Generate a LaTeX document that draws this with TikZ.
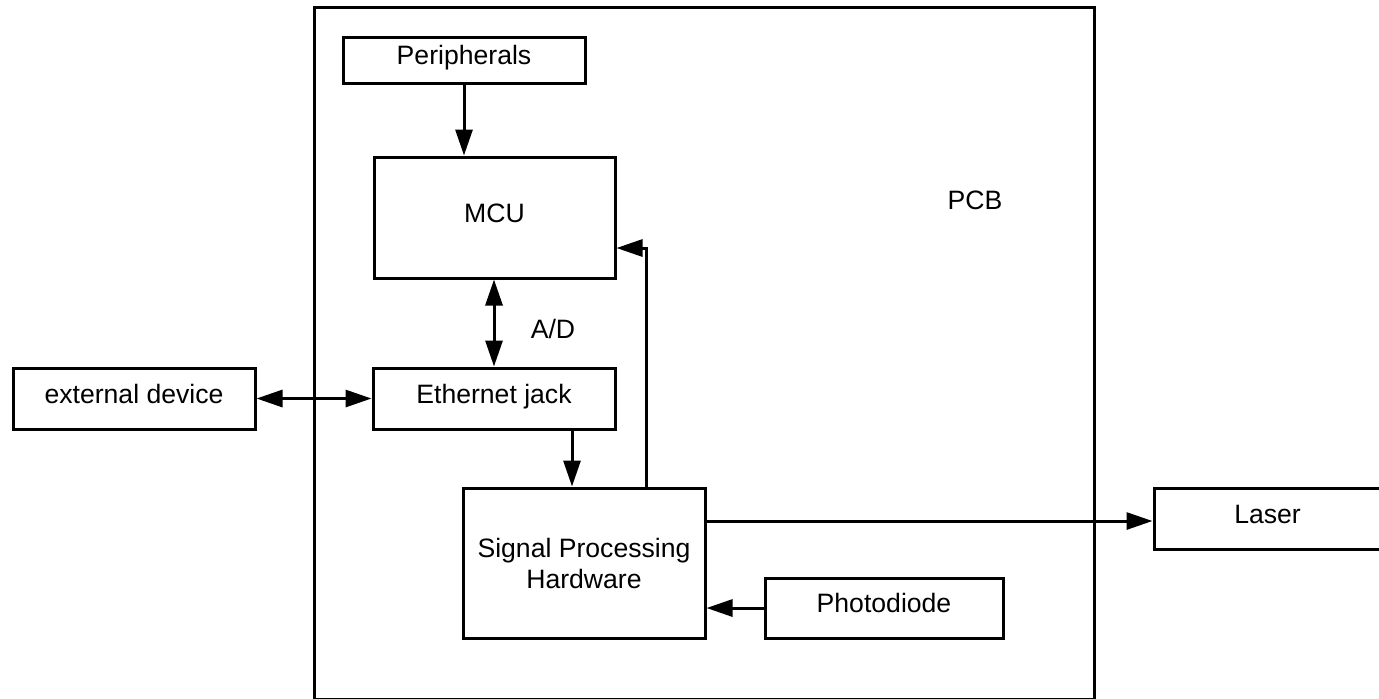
\documentclass[tikz,border=0pt]{standalone}
\usepackage{fontspec}
\setmainfont{Liberation Sans}
\usetikzlibrary{arrows.meta}
\begin{document}
\begin{tikzpicture}[x=0.5pt,y=-0.5pt,
  font=\fontsize{13.3}{15.5}\selectfont,
  frame/.style={draw, line width=1.5pt, inner sep=0pt, align=center},
  box/.style={frame, text height=9.6pt, text depth=5.1pt},
  arr/.style={line width=1.5pt, -{Triangle[length=13pt,width=8.5pt]}},
  darr/.style={line width=1.5pt, {Triangle[length=13pt,width=8.5pt]}-{Triangle[length=13pt,width=8.5pt]}}]
\useasboundingbox (0,0) rectangle (1379,698);
\node[frame, minimum width=390pt, minimum height=346pt] (pcb) at (704,353) {};
\node (pcblabel) at (975,200) {PCB};
\node[box, minimum width=121pt, minimum height=23pt] (per) at (464,60) {Peripherals};
\node[box, minimum width=120.5pt, minimum height=60.5pt] (mcu) at (494.5,217.5) {MCU};
\node[box, minimum width=121pt, minimum height=30.5pt] (eth) at (494,398.5) {Ethernet jack};
\node[box, minimum width=121pt, minimum height=30.5pt] (ext) at (134,398.5) {external device};
\node[frame, minimum width=121pt, minimum height=75pt] (sph) at (584,563) {Signal Processing\\Hardware};
\node[box, minimum width=119pt, minimum height=30pt] (photo) at (884,608) {Photodiode};
\node[box, minimum width=113.5pt, minimum height=30.5pt] (laser) at (1267.5,518.5) {Laser};
\node (ad) at (553,329) {A/D};
\draw[arr] (per.south) -- (per.south |- mcu.north);
\draw[darr] (mcu.south -| eth.north) -- (eth.north);
\draw[darr] (ext.east) -- (eth.west);
\draw[arr] (eth.south -| 572,0) -- (sph.north -| 572,0);
\draw[arr] (sph.north -| 646,0) |- (mcu.east |- 0,248);
\draw[arr] (sph.east |- 0,521) -- (laser.west |- 0,521);
\draw[arr] (photo.west) -- (photo.west -| sph.east);
\end{tikzpicture}
\end{document}
